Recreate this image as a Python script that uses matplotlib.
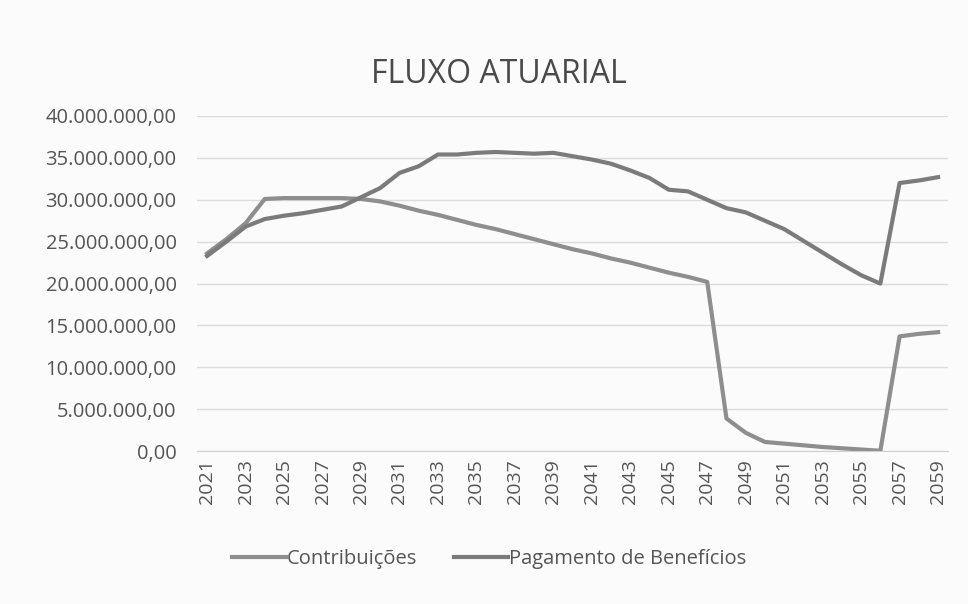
import matplotlib
matplotlib.use("Agg")
import matplotlib.pyplot as plt
from matplotlib.ticker import FuncFormatter

plt.rcParams['font.family'] = ['Open Sans', 'DejaVu Sans']

anos = list(range(2021, 2060))

# valores (R$)
contribuicoes = [23.6, 25.3, 27.2, 30.1, 30.2, 30.2, 30.2, 30.2, 30.1, 29.8,
                 29.3, 28.7, 28.2, 27.6, 27.0, 26.5, 25.9, 25.3, 24.7, 24.1,
                 23.6, 23.0, 22.5, 21.9, 21.3, 20.8, 20.2, 3.9, 2.2, 1.1,
                 0.9, 0.7, 0.5, 0.35, 0.2, 0.05, 13.7, 14.0, 14.2]
beneficios = [23.3, 25.0, 26.8, 27.7, 28.1, 28.4, 28.8, 29.2, 30.3, 31.4,
              33.2, 34.0, 35.4, 35.4, 35.6, 35.7, 35.6, 35.5, 35.6, 35.2,
              34.8, 34.3, 33.5, 32.6, 31.2, 31.0, 30.0, 29.0, 28.5, 27.5,
              26.5, 25.1, 23.7, 22.3, 21.0, 20.0, 32.0, 32.3, 32.7]
contribuicoes = [v * 1e6 for v in contribuicoes]
beneficios = [v * 1e6 for v in beneficios]


def fmt_br(v, pos):
    s = f"{v:,.2f}"
    return s.replace(",", "X").replace(".", ",").replace("X", ".")


fig = plt.figure(figsize=(9.68, 6.04), dpi=100, facecolor="#fbfbfb")
ax = fig.add_axes([0.204, 0.253, 0.775, 0.555])
ax.set_facecolor("#fbfbfb")

ax.plot(anos, contribuicoes, color="#8e8e8e", lw=3.0, solid_joinstyle="round",
        label="Contribuições")
ax.plot(anos, beneficios, color="#7b7b7b", lw=3.0, solid_joinstyle="round",
        label="Pagamento de Benefícios")

ax.set_xlim(2020.5, 2059.5)
ax.set_ylim(0, 40e6)
ax.set_yticks([i * 5e6 for i in range(9)])
ax.yaxis.set_major_formatter(FuncFormatter(fmt_br))
ax.set_xticks(anos[::2])
ax.set_xticklabels([str(a) for a in anos[::2]], rotation=90)

ax.grid(axis="y", color="#dcdcdc", lw=1)
ax.set_axisbelow(True)
for s in ["top", "right", "left"]:
    ax.spines[s].set_visible(False)
ax.spines["bottom"].set_color("#d0d0d0")
ax.tick_params(axis="both", length=0, colors="#555555")
ax.tick_params(axis="y", pad=15, labelsize=14.5)
ax.tick_params(axis="x", pad=6, labelsize=14)

fig.text(0.515, 0.877, "FLUXO ATUARIAL", ha="center", va="center",
         fontsize=23, color="#4a4a4a")

fig.legend(loc="center", bbox_to_anchor=(0.505, 0.075), ncol=2, frameon=False,
           fontsize=14.5, labelcolor="#555555", handlelength=2.7,
           handletextpad=0.05, columnspacing=1.8)

fig.savefig("out.png", dpi=100, facecolor=fig.get_facecolor())
